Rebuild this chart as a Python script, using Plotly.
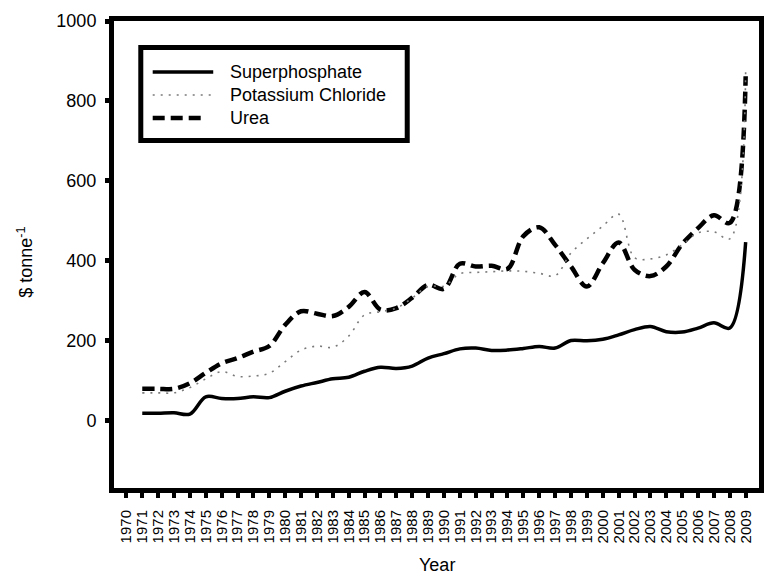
import plotly.graph_objects as go

# ---- data -------------------------------------------------------------
years = list(range(1971, 2010))
tick_years = list(range(1970, 2010))
tick_labels = [str(y) for y in tick_years]
y_ticks = [0, 200, 400, 600, 800, 1000]

superphosphate = [19, 19, 20, 17, 60, 56, 56, 60, 58, 74,
                  87, 96, 105, 109, 124, 134, 131, 137, 157, 168,
                  180, 182, 176, 177, 181, 186, 182, 201, 200, 204,
                  215, 228, 236, 223, 222, 232, 245, 232, 447]

potassium_chloride = [70, 70, 70, 83, 105, 123, 111, 112, 119, 148,
                      177, 187, 184, 212, 265, 273, 282, 307, 336, 337,
                      368, 371, 373, 375, 374, 369, 363, 420, 455, 487,
                      517, 408, 405, 415, 440, 470, 473, 455, 875]

urea = [80, 80, 80, 94, 120, 144, 157, 173, 187, 240,
        274, 268, 262, 285, 322, 278, 282, 308, 340, 330,
        393, 386, 388, 380, 462, 484, 440, 386, 336, 394,
        446, 378, 362, 386, 442, 482, 514, 495, 862]

series_names = ["Superphosphate", "Potassium Chloride", "Urea"]

# ---- geometry ---------------------------------------------------------
W, H = 775, 585
L, R, T, B = 114, 11, 21, 97
PW, PH = W - L - R, H - T - B


def fx(x):
    """pixel column -> paper x"""
    return (x - L) / PW


def fy(y):
    """pixel row -> paper y"""
    return (H - B - y) / PH


FONT = "Arial, Liberation Sans, sans-serif"

styles = {
    "Superphosphate": dict(color="black", width=3.5, dash="solid"),
    "Potassium Chloride": dict(color="#7a7a7a", width=1.6, dash="2px,6px"),
    "Urea": dict(color="black", width=4.5, dash="12px,6px"),
}

fig = go.Figure()
for name, vals in [("Superphosphate", superphosphate),
                   ("Urea", urea),
                   ("Potassium Chloride", potassium_chloride)]:
    fig.add_trace(go.Scatter(
        x=years, y=vals, name=name, mode="lines",
        line=dict(shape="spline", smoothing=1.0, **styles[name]),
        showlegend=False,
    ))

# ---- legend box drawn as shapes + text --------------------------------
shapes = [dict(type="rect", xref="paper", yref="paper",
               x0=fx(141), x1=fx(409.5), y0=fy(47.5), y1=fy(140.5),
               line=dict(color="black", width=5), fillcolor="white",
               layer="above")]
annotations = []
for i, name in enumerate(series_names):
    yy = 72 + 23 * i
    st = styles[name]
    x_end = 207 if name == "Urea" else 214
    shapes.append(dict(type="line", xref="paper", yref="paper",
                       x0=fx(153), x1=fx(x_end), y0=fy(yy), y1=fy(yy),
                       line=dict(color=st["color"], width=st["width"],
                                 dash=st["dash"]),
                       layer="above"))
    annotations.append(dict(xref="paper", yref="paper", x=fx(229), y=fy(yy),
                            text=name, showarrow=False, xanchor="left",
                            yanchor="middle",
                            font=dict(family=FONT, size=18, color="black")))

# axis titles
annotations.append(dict(xref="paper", yref="paper", x=fx(24), y=fy(262),
                        text="$ tonne<sup>-1</sup>", textangle=-90,
                        showarrow=False, xanchor="center", yanchor="middle",
                        font=dict(family=FONT, size=18, color="black")))
annotations.append(dict(xref="paper", yref="paper", x=fx(440), y=fy(565),
                        text="Year", showarrow=False, xanchor="center",
                        yanchor="middle",
                        font=dict(family=FONT, size=18, color="black")))

fig.update_layout(
    width=W, height=H,
    margin=dict(l=L, r=R, t=T, b=B, pad=0),
    paper_bgcolor="white", plot_bgcolor="white",
    font=dict(family=FONT, color="black"),
    showlegend=False,
    shapes=shapes,
    annotations=annotations,
    xaxis=dict(
        range=[1969.22, 2009.84],
        tickmode="array", tickvals=tick_years, ticktext=tick_labels,
        tickangle=-90, tickfont=dict(size=15, family=FONT),
        ticklabelstandoff=6,
        ticks="outside", ticklen=5, tickwidth=4, tickcolor="black",
        showline=True, linewidth=5, linecolor="black", mirror=True,
        showgrid=False, zeroline=False,
    ),
    yaxis=dict(
        range=[-168, 1000],
        tickmode="array", tickvals=y_ticks,
        tickfont=dict(size=18, family=FONT),
        ticklabelstandoff=5,
        ticks="outside", ticklen=4, tickwidth=5, tickcolor="black",
        showline=True, linewidth=5, linecolor="black", mirror=True,
        showgrid=False, zeroline=False,
    ),
)

fig.write_html("out.html")
